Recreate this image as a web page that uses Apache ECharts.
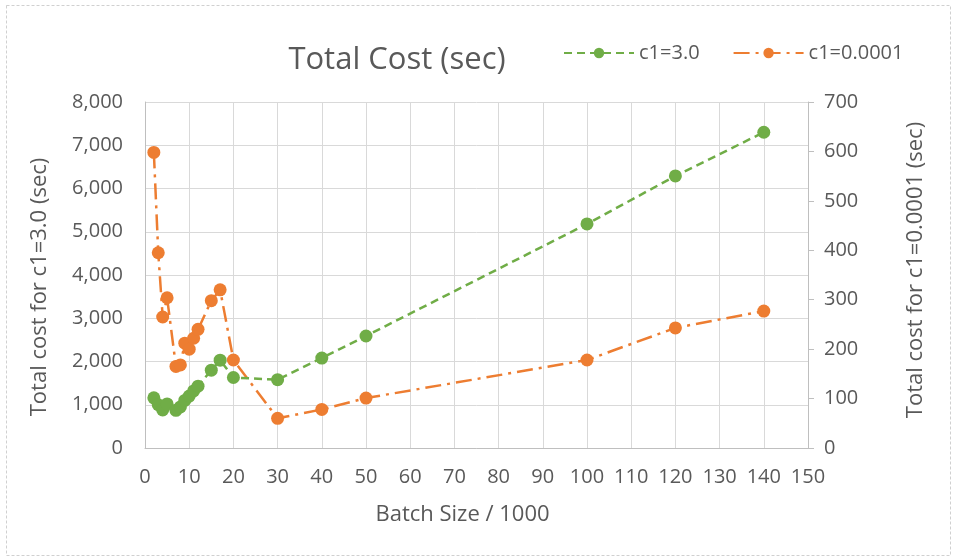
<!DOCTYPE html>
<html>
<head>
<meta charset="utf-8">
<script src="https://cdn.jsdelivr.net/npm/echarts@6/dist/echarts.min.js"></script>
<style>
html,body{margin:0;padding:0;background:#fff;}
#c{width:957px;height:557px;}
</style>
</head>
<body>
<div id="c"></div>
<script>
// Data
const batchSizes = [2, 3, 4, 5, 7, 8, 9, 10, 11, 12, 15, 17, 20, 30, 40, 50, 100, 120, 140];
const costC1_3 = [1160, 1000, 880, 1020, 870, 950, 1100, 1200, 1320, 1430, 1800, 2030, 1630, 1580, 2080, 2590, 5180, 6290, 7300];
const costC1_00001 = [598, 395, 265, 304, 165, 168, 212, 200, 222, 240, 298, 320, 178, 60, 78, 101, 178, 243, 277];
const xTicks = [0, 150, 10];
const leftTicks = [0, 8000, 1000];
const rightTicks = [0, 700, 100];

const textColor = '#595959';
const font = '"Open Sans", "Noto Sans", sans-serif';

const chart = echarts.init(document.getElementById('c'));
chart.setOption({
  animation: false,
  backgroundColor: '#fff',
  textStyle: { fontFamily: font, color: textColor },
  title: {
    text: 'Total Cost (sec)',
    left: 392, top: 40, textAlign: 'center',
    textStyle: { fontFamily: font, fontSize: 31, fontWeight: 'normal', color: textColor }
  },
  legend: {
    left: 558, top: 38,
    itemWidth: 70, itemHeight: 13, itemGap: 33,
    textStyle: { fontFamily: font, fontSize: 20, color: textColor },
    data: ['c1=3.0', 'c1=0.0001']
  },
  grid: { left: 145, right: 149, top: 102, bottom: 109, containLabel: false },
  xAxis: {
    type: 'value',
    min: xTicks[0], max: xTicks[1], interval: xTicks[2],
    name: 'Batch Size / 1000', nameLocation: 'middle', nameGap: 56,
    nameTextStyle: { fontFamily: font, fontSize: 22, color: textColor, padding: [0, 28, 0, 0] },
    axisLine: { show: true, lineStyle: { color: '#BFBFBF' } },
    axisTick: { show: false },
    axisLabel: { margin: 19, fontFamily: font, fontSize: 20, color: textColor },
    splitLine: { show: true, lineStyle: { color: '#D9D9D9', width: 1 } }
  },
  yAxis: [
    {
      type: 'value', position: 'left',
      min: leftTicks[0], max: leftTicks[1], interval: leftTicks[2],
      name: 'Total cost for c1=3.0 (sec)', nameLocation: 'middle', nameGap: 94, nameRotate: 90,
      nameTextStyle: { fontFamily: font, fontSize: 22, color: textColor, padding: [0, 24, 0, 0] },
      axisLine: { show: true, lineStyle: { color: '#BFBFBF' } },
      axisTick: { show: false },
      axisLabel: { margin: 22, fontFamily: font, fontSize: 20, color: textColor,
        formatter: v => v.toLocaleString('en-US') },
      splitLine: { show: true, lineStyle: { color: '#D9D9D9', width: 1 } }
    },
    {
      type: 'value', position: 'right',
      min: rightTicks[0], max: rightTicks[1], interval: rightTicks[2],
      name: 'Total cost for c1=0.0001 (sec)', nameLocation: 'middle', nameGap: 97, nameRotate: 90,
      nameTextStyle: { fontFamily: font, fontSize: 22, color: textColor, padding: [0, 0, 0, 10] },
      axisLine: { show: true, lineStyle: { color: '#BFBFBF' } },
      axisTick: { show: true, inside: false, length: 6, lineStyle: { color: '#BFBFBF' } },
      axisLabel: { margin: 16, fontFamily: font, fontSize: 20, color: textColor },
      splitLine: { show: false }
    }
  ],
  series: [
    {
      name: 'c1=3.0', type: 'line', yAxisIndex: 0,
      data: batchSizes.map((x, i) => [x, costC1_3[i]]),
      symbol: 'circle', symbolSize: 13,
      itemStyle: { color: '#70AD47' },
      lineStyle: { color: '#70AD47', width: 2.5, type: [8, 5] },
      z: 3
    },
    {
      name: 'c1=0.0001', type: 'line', yAxisIndex: 1,
      data: batchSizes.map((x, i) => [x, costC1_00001[i]]),
      symbol: 'circle', symbolSize: 13,
      itemStyle: { color: '#ED7D31' },
      lineStyle: { color: '#ED7D31', width: 2.5, type: [16, 6, 3, 6] },
      z: 2
    }
  ],
  graphic: [
    {
      type: 'rect', left: 4, top: 3, silent: true,
      shape: { width: 944, height: 550 },
      style: { fill: null, stroke: '#D0D0D0', lineWidth: 1, lineDash: [3, 2] }
    }
  ]
});
</script>
</body>
</html>
